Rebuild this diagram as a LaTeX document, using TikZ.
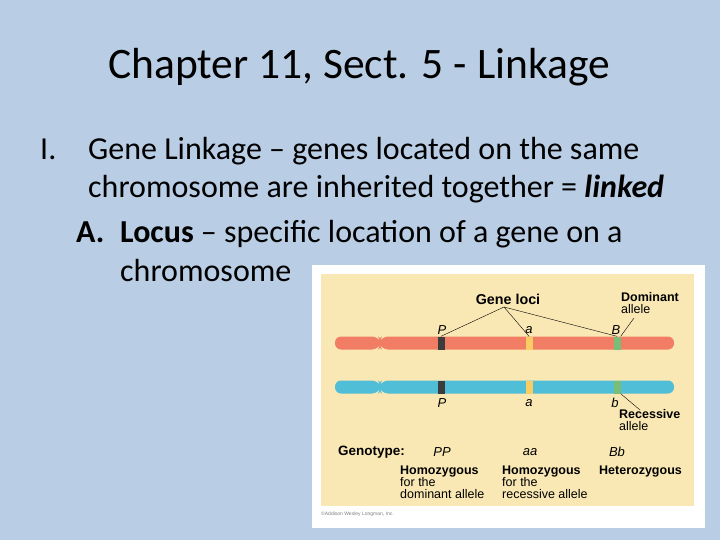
\documentclass[tikz,border=0pt]{standalone}
\usepackage{fontspec}
\setmainfont{Carlito}
\newfontfamily\arialf{Liberation Sans}
\usetikzlibrary{calc}
\definecolor{bg}{RGB}{185,205,228}
\definecolor{beige}{RGB}{250,232,180}
\definecolor{redc}{RGB}{240,125,100}
\definecolor{bluec}{RGB}{80,190,215}
\definecolor{darkband}{RGB}{60,60,60}
\definecolor{yband}{RGB}{250,205,100}
\definecolor{gband}{RGB}{120,190,120}
\tikzset{
 txt/.style={anchor=base west,inner sep=0pt,font=\fontsize{32}{36}\selectfont},
 lab/.style={inner sep=0pt,font=\arialf\bfseries\fontsize{12.5}{12}\selectfont,align=left},
 ital/.style={inner sep=0pt,font=\arialf\itshape\fontsize{13}{13}\selectfont},
 band/.style={draw=none,minimum width=7pt,minimum height=13pt,inner sep=0pt},
 ln/.style={draw=black,line width=0.4pt}
}
\begin{document}
\begin{tikzpicture}[x=1pt,y=-1pt]
\fill[bg] (0,0) rectangle (720,540);
\useasboundingbox (0,0) rectangle (720,540);
\node[font=\fontsize{43.5}{46}\selectfont] (title) at (359,67) {Chapter 11, Sect. 5 - Linkage};
\node[txt] (l1) at (40,160) {I.};
\node[txt] (l1b) at (88,160) {Gene Linkage – genes located on the same};
\node[txt] (l2) at (88,198) {chromosome are inherited together = \textbf{\textit{linked}}};
\node[txt] (l3) at (76,243) {\textbf{A.}};
\node[txt] (l3b) at (120,243) {\textbf{Locus} – specific location of a gene on a};
\node[txt] (l4) at (120,281) {chromosome};
% figure
\fill[white] (312,265) rectangle (705,528);
\fill[beige] (321,274) rectangle (694,506);
% chromosomes
\foreach \yy/\cc/\nm in {343/redc/r,387/bluec/b}{
 \fill[\cc] (335,\yy-6.5) [rounded corners=6pt] -- (378,\yy-6.5) -- (380,\yy-2) -- (382,\yy-6.5) -- (674,\yy-6.5) -- (674,\yy+6.5) -- (382,\yy+6.5) -- (380,\yy+2) -- (378,\yy+6.5) -- (335,\yy+6.5) -- cycle;
}
\node[band,fill=darkband] (rP) at (441,343) {};
\node[band,fill=yband] (ra) at (529,343) {};
\node[band,fill=gband] (rB) at (617,343) {};
\node[band,fill=darkband] (bP) at (441,387) {};
\node[band,fill=yband] (ba) at (529,387) {};
\node[band,fill=gband] (bB) at (617,387) {};
% labels
\node[lab,font=\arialf\bfseries\fontsize{14.3}{14}\selectfont] (loci) at (508,299) {Gene loci};
\node[ital] (tP) at (442,330) {P};
\node[ital] (ta) at (529,330) {a};
\node[ital] (tB) at (616,330) {B};
\node[ital] (uP) at (442,403) {P};
\node[ital] (ua) at (529,403) {a};
\node[ital] (ub) at (615,403) {b};
\node[lab,anchor=north west] (dom) at (621,292) {Dominant\\{\mdseries allele}};
\node[lab,anchor=north west] (rec) at (619,409) {Recessive\\{\mdseries allele}};
\coordinate (lc) at (504,307);
\draw[ln] (lc) -- (rP.north);
\draw[ln] (lc) -- (ra.north);
\draw[ln] (lc) -- (rB.north);
\coordinate (d1) at (634,318);
\draw[ln] (d1) -- (rB.north east);
\coordinate (r1) at (640,410);
\draw[ln] (r1) -- (bB.south east);
\node[lab,anchor=west,font=\arialf\bfseries\fontsize{13.5}{13}\selectfont] (gt) at (338,452) {Genotype:};
\node[ital] (PP) at (442,452) {PP};
\node[ital] (aa) at (530,452) {aa};
\node[ital] (Bb) at (617,452) {Bb};
\node[lab,anchor=north west] (h1) at (400,466) {Homozygous\\{\mdseries for the}\\{\mdseries dominant allele}};
\node[lab,anchor=north west] (h2) at (502,466) {Homozygous\\{\mdseries for the}\\{\mdseries recessive allele}};
\node[lab,anchor=north west] (h3) at (599,466) {Heterozygous};
\node[anchor=west,inner sep=0pt,font=\arialf\fontsize{5}{5}\selectfont,text=gray] (cp) at (321,514) {©Addison Wesley Longman, Inc.};
\end{tikzpicture}
\end{document}
